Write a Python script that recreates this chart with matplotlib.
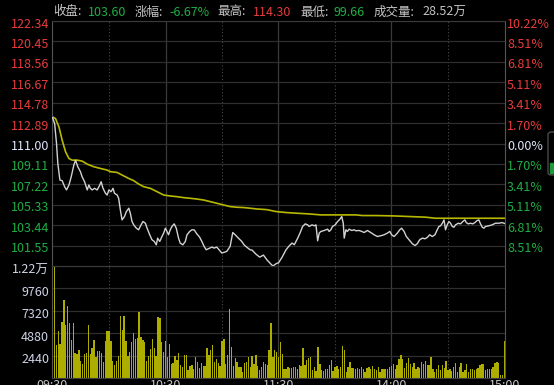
import matplotlib
matplotlib.use('Agg')
import matplotlib.pyplot as plt
import matplotlib.transforms as mtransforms
from matplotlib.patches import FancyBboxPatch, Rectangle

plt.rcParams['font.family'] = ['Noto Sans CJK SC', 'DejaVu Sans']

# minutes since 09:30 (lunch break removed), price
price_t = [0, 1.1, 2.1, 2.8, 3.9, 5.1, 6.4, 7.4, 8.7, 9.9,
           11.3, 12.2, 13.4, 14.8, 15.7, 17.0, 18.4, 19.3, 20.1, 21.0,
           22.3, 23.7, 25.1, 25.8, 26.8, 28.1, 29.0, 29.9, 31.1, 32.1,
           32.9, 34.3, 35.1, 36.0, 36.9, 38.2, 39.2, 40.5, 41.3, 42.2,
           43.1, 44.5, 45.7, 47.0, 48.0, 49.3, 50.2, 51.6, 52.8, 54.0,
           55.1, 55.8, 56.9, 58.1, 59.0, 59.9, 60.8, 61.6, 62.5, 63.4,
           64.6, 65.7, 66.9, 67.8, 69.2, 70.5, 71.4, 72.8, 74.0, 75.2,
           76.6, 78.1, 79.3, 80.5, 81.6, 84.6, 85.8, 87.2, 89.9, 92.5,
           94.3, 95.7, 97.0, 98.7, 100.5, 101.7, 103.1, 104.9, 106.0, 108.0,
           110.0, 112.0, 114.0, 116.0, 117.0, 119.0, 120.0, 122.0, 124.0, 125.7,
           127.2, 128.4, 130.2, 131.4, 132.8, 134.2, 135.5, 136.3, 137.8, 139.0,
           139.9, 140.8, 141.6, 142.5, 143.8, 145.2, 146.1, 146.9, 147.8, 148.7,
           150.1, 151.4, 152.6, 153.6, 154.4, 154.9, 155.8, 156.6, 157.5, 158.9,
           160.2, 161.1, 162.8, 164.2, 165.5, 166.4, 167.2, 169.0, 170.8, 172.5,
           174.3, 176.1, 177.8, 179.1, 180.1, 181.4, 182.3, 183.1, 184.4, 185.4,
           186.7, 187.9, 189.3, 191.1, 192.5, 193.7, 195.0, 196.4, 197.8, 199.0,
           200.3, 201.7, 203.1, 204.3, 205.2, 206.1, 207.0, 207.9, 208.7, 209.6,
           210.5, 211.4, 212.3, 213.2, 214.0, 215.5, 216.7, 217.9, 219.0, 219.7,
           220.8, 222.0, 223.2, 224.3, 225.5, 226.4, 227.3, 228.2, 229.1, 229.9,
           231.7, 233.5, 235.2, 237.0, 238.8, 240.0]
price = [113.39, 112.84, 111.00, 109.15, 107.62, 107.56, 107.00, 106.70, 107.16, 107.92,
         109.00, 109.46, 108.85, 108.39, 107.92, 107.46, 106.70, 107.16, 106.85, 106.70,
         106.85, 106.70, 107.16, 107.46, 106.85, 106.39, 106.23, 106.70, 106.54, 106.85,
         106.39, 106.23, 105.93, 104.85, 103.93, 104.24, 104.70, 105.01, 104.54, 103.78,
         103.47, 103.16, 103.01, 103.47, 103.78, 103.62, 103.16, 102.55, 102.09, 101.93,
         101.62, 102.24, 101.93, 102.39, 102.70, 103.16, 102.85, 102.55, 103.01, 103.31,
         103.56, 103.16, 102.24, 101.78, 101.62, 101.93, 102.55, 102.85, 103.01, 103.01,
         102.64, 102.33, 101.93, 101.47, 101.16, 101.41, 101.32, 101.41, 100.86, 101.01,
         101.47, 102.76, 102.55, 102.24, 101.93, 101.62, 101.41, 101.16, 101.13, 100.76,
         100.48, 100.67, 100.20, 99.83, 99.66, 99.90, 99.95, 100.50, 101.16, 101.53,
         101.78, 101.63, 102.24, 102.70, 103.32, 103.56, 103.47, 103.32, 103.47, 103.38,
         103.47, 101.99, 102.70, 102.86, 102.92, 103.01, 103.07, 102.86, 103.01, 103.32,
         103.47, 103.78, 103.99, 104.24, 103.62, 102.24, 103.01, 102.86, 103.07, 102.95,
         103.01, 102.92, 102.95, 102.86, 102.76, 102.86, 102.95, 102.76, 102.55, 102.39,
         102.46, 102.55, 102.70, 102.86, 102.55, 102.39, 102.55, 102.70, 103.01, 103.16,
         102.86, 102.39, 102.09, 101.72, 101.56, 101.72, 102.09, 102.24, 102.18, 102.30,
         102.55, 102.39, 102.55, 103.01, 103.32, 103.38, 103.62, 103.93, 103.01, 103.47,
         103.78, 103.62, 103.32, 103.25, 103.47, 103.62, 103.56, 103.78, 103.93, 103.68,
         103.56, 103.62, 103.56, 103.68, 103.87, 103.93, 103.56, 103.25, 103.16, 103.32,
         103.38, 103.47, 103.62, 103.62, 103.68, 103.60]

avg_t = [0, 1.6, 3.4, 5.1, 6.9, 8.7, 10.4, 13.1, 15.7, 18.4,
         21.9, 25.4, 29.0, 30.7, 34.3, 36.9, 40.4, 43.1, 45.7, 48.4,
         51.9, 55.5, 59.0, 62.5, 66.0, 69.6, 73.1, 76.6, 80.2, 83.7,
         87.2, 90.8, 94.3, 97.8, 101.4, 104.9, 108.4, 113.7, 118.7, 124.0,
         129.3, 136.3, 142.5, 150.5, 161.1, 164.6, 171.7, 180.5, 189.3, 198.1,
         203.4, 215.8, 224.6, 240]
avg_price = [113.46, 113.30, 112.53, 111.30, 110.23, 109.61, 109.46, 109.46, 109.37, 109.09,
             108.85, 108.69, 108.54, 108.39, 108.32, 108.08, 107.77, 107.56, 107.25, 107.00,
             106.85, 106.54, 106.23, 106.14, 106.08, 105.99, 105.93, 105.86, 105.77, 105.62,
             105.47, 105.31, 105.16, 105.10, 105.07, 105.01, 104.94, 104.88, 104.70, 104.61,
             104.55, 104.48, 104.39, 104.39, 104.39, 104.33, 104.33, 104.30, 104.24, 104.18,
             104.08, 104.08, 104.08, 104.08]

# one bar per minute, 09:30 .. 15:00
volume = [5917, 12200, 3557, 5118, 3739, 6098, 8458, 5735, 7805, 5990,
          4102, 5953, 2759, 2650, 3013, 1815, 1561, 2650, 2723, 5808,
          2650, 3267, 4138, 2287, 2904, 2904, 2759, 1742, 4029, 5118,
          5082, 4029, 1851, 1379, 1815, 2360, 6716, 5191, 6752, 3993,
          2396, 2831, 3920, 4937, 4283, 4356, 7187, 4465, 4102, 3920,
          1815, 2396, 3194, 4211, 3267, 2360, 6643, 6534, 3920, 2831,
          4029, 2287, 3739, 1561, 1670, 2396, 1924, 2759, 1379, 1198,
          2541, 2468, 835, 1307, 1452, 1016, 2287, 1742, 1089, 1634,
          1307, 1307, 3267, 2541, 3013, 3557, 1742, 2033, 1634, 1307,
          4029, 4211, 1561, 2541, 7550, 3376, 1307, 2178, 1742, 1198,
          1198, 653, 1670, 1742, 2287, 1198, 2396, 1561, 2468, 1307,
          835, 1198, 1742, 1561, 1379, 3013, 5990, 2287, 3013, 2831,
          2287,
          3920, 2650, 1016, 1016, 1198, 1089, 1089, 1162, 1198, 944,
          1452, 1307, 3267, 1452, 1924, 2178, 2287, 835, 1198, 726,
          3340, 1561, 835, 726, 944, 1016, 1452, 1997, 726, 1198,
          1307, 1016, 1198, 3485, 3013, 653, 1198, 1742, 1089, 1089,
          1016, 1089, 1016, 1198, 944, 653, 1089, 1198, 944, 1307,
          944, 835, 1198, 653, 1016, 944, 944, 1016, 1162, 1307,
          1561, 1016, 1379, 2105, 2541, 2105, 1089, 1670, 2178, 1561,
          1198, 1670, 1016, 1198, 1089, 1742, 1561, 1815, 1379, 1452,
          2287, 1016, 653, 1016, 1452, 835, 1379, 1089, 1815, 835,
          944, 726, 1198, 1670, 653, 1198, 1670, 653, 835, 1561,
          653, 944, 944, 835, 1016, 1089, 1452, 1561, 1561, 835,
          944, 1016, 1016, 1198, 1670, 1742, 1670, 290, 290, 3993]

prev_close = 111.00
price_min, price_max = 99.66, 122.34
price_ticks = [122.34, 120.45, 118.56, 116.67, 114.78, 112.89, 111.00,
               109.11, 107.22, 105.33, 103.44, 101.55]
pct_labels = ['10.22%', '8.51%', '6.81%', '5.11%', '3.41%', '1.70%', '0.00%',
              '1.70%', '3.41%', '5.11%', '6.81%', '8.51%']
vol_ticks = [12200, 9760, 7320, 4880, 2440]
vol_labels = ['1.22万', '9760', '7320', '4880', '2440']
time_ticks = [0, 60, 120, 180, 240]
time_labels = ['09:30', '10:30', '11:30', '14:00', '15:00']
header = [('收盘:', '103.60', 'green'), ('涨幅:', '-6.67%', 'green'),
          ('最高:', '114.30', 'red'), ('最低:', '99.66', 'green'),
          ('成交量:', '28.52万', 'plain')]

RED = '#e63c3c'
GREEN = '#1fae45'
MID = '#dfe6fa'
LABEL = '#c4c4c4'
GRID = '#2e2e2e'
W, H = 554, 385

fig = plt.figure(figsize=(W / 100, H / 100), dpi=100, facecolor='black')
ax_p = fig.add_axes([52 / W, 1 - 266 / H, 453 / W, 245 / H], facecolor='black')
ax_v = fig.add_axes([52 / W, 1 - 378 / H, 453 / W, 112 / H], facecolor='black')

for ax in (ax_p, ax_v):
    ax.set_xlim(-0.3, 240.3)
    ax.set_xticks([])
    ax.set_yticks([])
    for side in ('left', 'right'):
        ax.spines[side].set_color('#555555')
    ax.spines['top'].set_color('#3a3a3a')
    ax.spines['bottom'].set_color('#3a3a3a')
    for m in (60, 120, 180):
        ax.axvline(m, color='#3a3a3a', lw=0.9, zorder=0)
    for m in (30, 90, 150, 210):
        ax.axvline(m, color='#4a4a4a', lw=0.8, ls=(0, (1, 2)), zorder=0)

# price panel
ax_p.set_ylim(price_min, price_max)
for lvl in price_ticks:
    ax_p.axhline(lvl, color=GRID, lw=0.9, zorder=0)
ax_p.plot(avg_t, avg_price, color='#b8b800', lw=1.2, zorder=2)
ax_p.plot(price_t, price, color='#d2d2d2', lw=1.0, zorder=3)

shift = mtransforms.ScaledTranslation(0, -3 / 100, fig.dpi_scale_trans)
ytr = ax_p.get_yaxis_transform() + shift
for lvl, pct in zip(price_ticks, pct_labels):
    col = RED if lvl > prev_close else (GREEN if lvl < prev_close else MID)
    ax_p.text(-3 / 453, lvl, f'{lvl:.2f}', transform=ytr, ha='right', va='center',
              color=col, fontsize=9, clip_on=False)
    ax_p.text(1 + 2 / 453, lvl, pct, transform=ytr, ha='left', va='center',
              color=col, fontsize=9, clip_on=False)

# volume panel
ax_v.set_ylim(0, 12200)
for lvl in vol_ticks:
    ax_v.axhline(lvl, color=GRID, lw=0.9, zorder=0)
ax_v.bar(range(len(volume)), volume, width=0.72, color='#adad00',
         edgecolor='none', linewidth=0, zorder=2)
vtr = ax_v.get_yaxis_transform() + mtransforms.ScaledTranslation(0, -4 / 100, fig.dpi_scale_trans)
for lvl, lab in zip(vol_ticks, vol_labels):
    ax_v.text(-3 / 453, lvl, lab, transform=vtr, ha='right', va='center',
              color='#cdd3e6', fontsize=9, clip_on=False)

# time axis labels (mostly cut by the image edge, as in the source)
for m, lab in zip(time_ticks, time_labels):
    fig.text((52 + m * 453 / 240) / W, 1 - 379 / H, lab, ha='center', va='top',
             color=LABEL, fontsize=9)

# header line
name_x = [53, 135, 217, 300, 374]
val_x = [88, 169, 253, 334, 422]
colors = {'green': GREEN, 'red': RED, 'plain': LABEL}
for (name, val, kind), nx, vx in zip(header, name_x, val_x):
    fig.text(nx / W, 1 - 12 / H, name, ha='left', va='center', color=LABEL, fontsize=9)
    fig.text(vx / W, 1 - 12 / H, val, ha='left', va='center', color=colors[kind], fontsize=9)

# small scroll handle on the right edge
fig.patches.append(FancyBboxPatch((548 / W, 1 - 175 / H), 9 / W, 43 / H,
                                  boxstyle='round,pad=0,rounding_size=0.006',
                                  transform=fig.transFigure, fill=False,
                                  ec='#5a5a5a', lw=0.8))
fig.patches.append(Rectangle((549.5 / W, 1 - 173 / H), 3 / W, 10 / H,
                             transform=fig.transFigure, color='#1a9a3a'))

fig.savefig('out.png', dpi=100, facecolor='black')
